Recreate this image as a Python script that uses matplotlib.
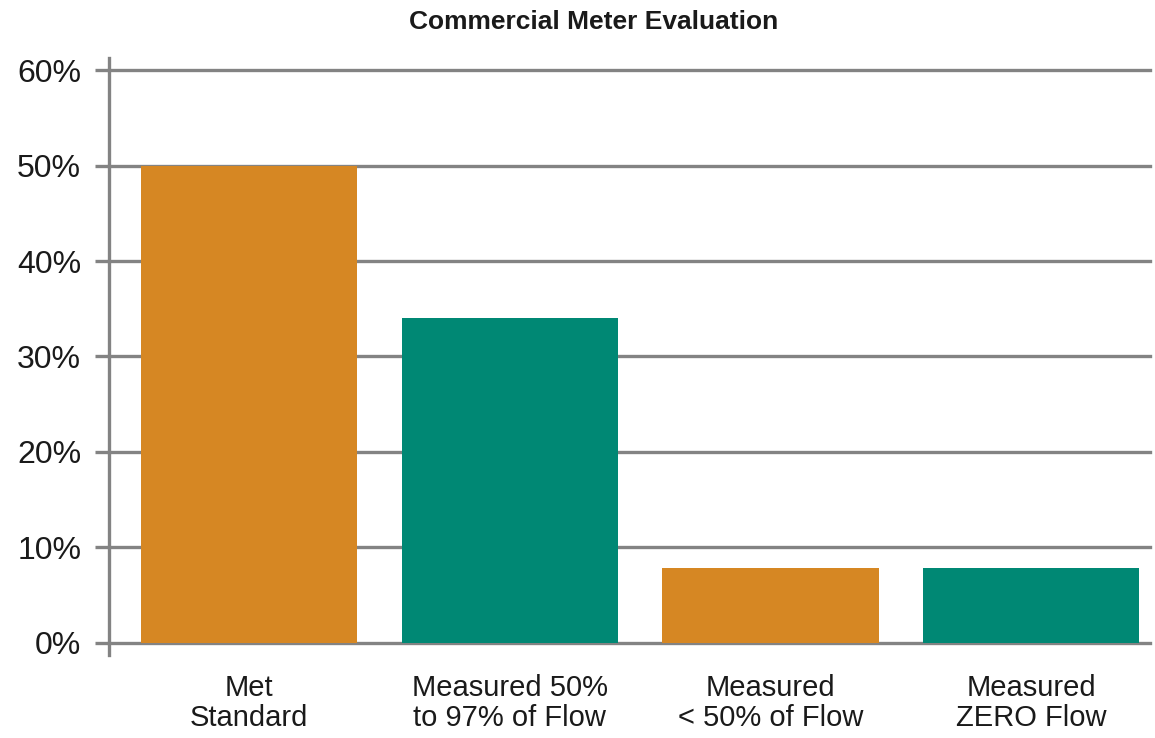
import matplotlib
matplotlib.use("Agg")
import matplotlib.pyplot as plt
from matplotlib.ticker import FuncFormatter

# Chart data
categories = ["Met\nStandard", "Measured 50%\nto 97% of Flow",
              "Measured\n< 50% of Flow", "Measured\nZERO Flow"]
values = [50.0, 34.0, 7.8, 7.8]
bar_colors = ["#D68723", "#008874", "#D68723", "#008874"]
y_ticks = [0, 10, 20, 30, 40, 50, 60]

plt.rcParams["font.family"] = ["Liberation Sans", "DejaVu Sans"]

fig = plt.figure(figsize=(11.55, 7.38), dpi=100)
ax = fig.add_axes([109 / 1155, 1 - 655 / 738, (1150 - 109) / 1155, (655 - 58) / 738])

grid_gray = "#838383"
x = range(len(categories))
ax.bar(x, values, width=0.83, color=bar_colors, zorder=3)

# horizontal gridlines incl. the zero line
for t in y_ticks:
    ax.axhline(t, color=grid_gray, linewidth=2.4, zorder=2, clip_on=False)

ax.set_xlim(-0.537, 3.456)
ax.set_ylim(-1.26, 61.26)
ax.set_yticks(y_ticks)
ax.yaxis.set_major_formatter(FuncFormatter(lambda v, p: f"{v:.0f}%"))
ax.set_xticks(list(x))
ax.set_xticklabels(categories, fontsize=21, color="#1a1a1a", linespacing=1.05)
ax.tick_params(axis="x", length=0, pad=14)
ax.tick_params(axis="y", length=10, width=2.4, color=grid_gray, pad=10,
               labelsize=23, labelcolor="#1a1a1a")

for side in ["top", "right", "bottom"]:
    ax.spines[side].set_visible(False)
ax.spines["left"].set_color(grid_gray)
ax.spines["left"].set_linewidth(2.4)

fig.text(594 / 1155, 1 - 22 / 738, "Commercial Meter Evaluation",
         ha="center", va="center", fontsize=19, fontweight="bold", color="#1a1a1a")

fig.savefig("out.png", dpi=100)
